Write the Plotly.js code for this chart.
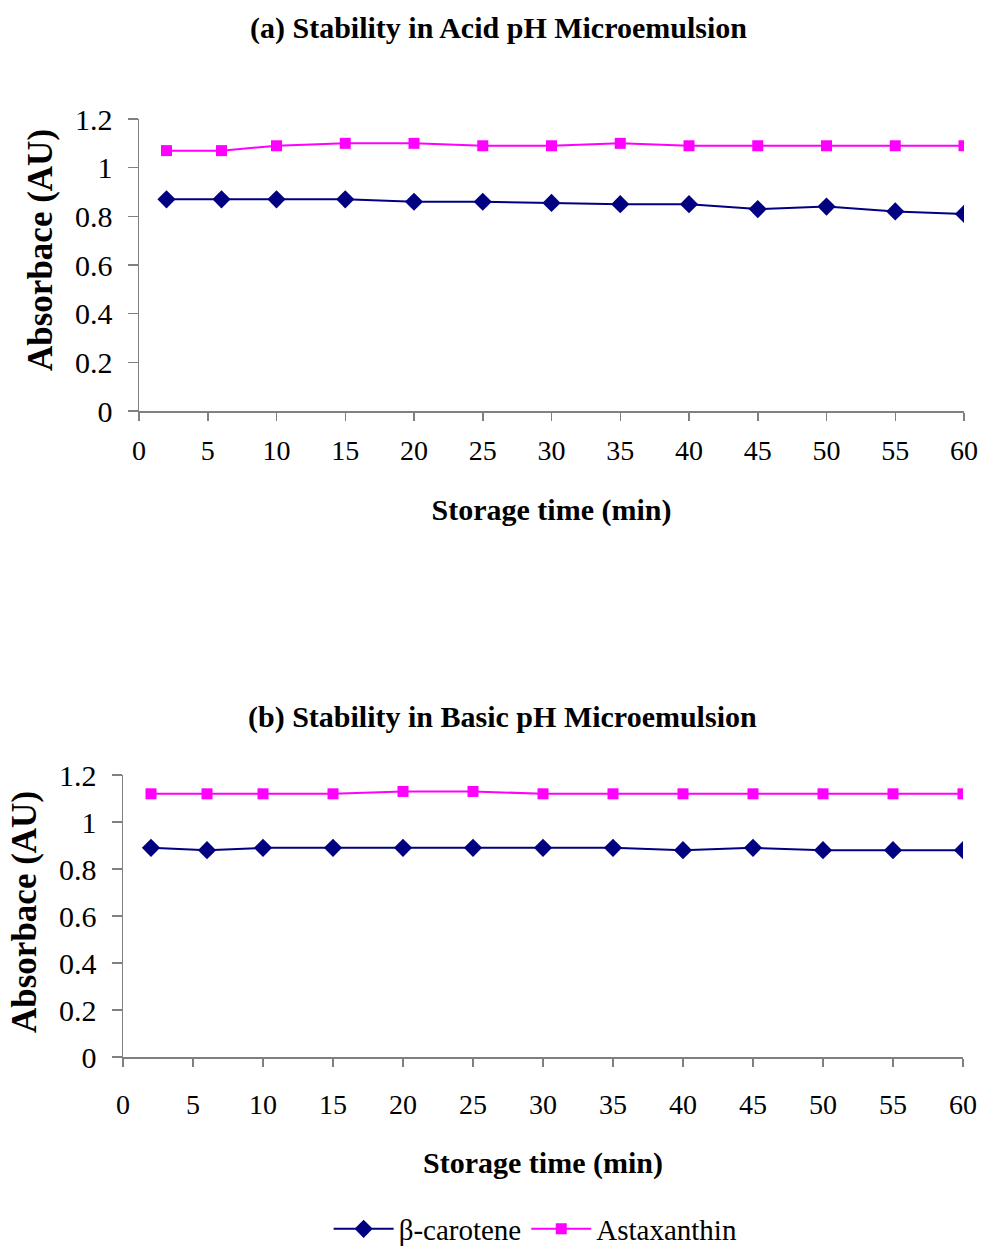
<!DOCTYPE html>
<html><head><meta charset="utf-8">
<script src="https://cdn.plot.ly/plotly-3.0.1.min.js"></script>
<style>html,body{margin:0;padding:0;background:#fff;overflow:hidden;width:981px;height:1246px}#chart{display:block;width:981px;height:1246px;overflow:hidden}</style>
</head><body><div id="chart"></div>
<script>
const time = [2, 6, 10, 15, 20, 25, 30, 35, 40, 45, 50, 55, 60];
const acidBeta = [0.87, 0.87, 0.87, 0.87, 0.86, 0.86, 0.855, 0.85, 0.85, 0.83, 0.84, 0.82, 0.81];
const acidAsta = [1.07, 1.07, 1.09, 1.10, 1.10, 1.09, 1.09, 1.10, 1.09, 1.09, 1.09, 1.09, 1.09];
const basicBeta = [0.89, 0.88, 0.89, 0.89, 0.89, 0.89, 0.89, 0.89, 0.88, 0.89, 0.88, 0.88, 0.88];
const basicAsta = [1.12, 1.12, 1.12, 1.12, 1.13, 1.13, 1.12, 1.12, 1.12, 1.12, 1.12, 1.12, 1.12];
const xTicks = [0, 5, 10, 15, 20, 25, 30, 35, 40, 45, 50, 55, 60];
const yTicks = [0, 0.2, 0.4, 0.6, 0.8, 1, 1.2];
const seriesNames = ['β-carotene', 'Astaxanthin'];

const F = 'Liberation Serif, Times New Roman, serif';
const navy = '#000080', mag = '#FF00FF';
const betaStyle = {color: navy, width: 2};
const astaStyle = {color: mag, width: 2};
const betaMarker = {symbol: 'diamond', size: 14, color: navy};
const astaMarker = {symbol: 'square', size: 11, color: mag};

const traces = [
  {x: time, y: acidBeta, name: seriesNames[0], mode: 'lines+markers', line: betaStyle, marker: betaMarker, xaxis: 'x', yaxis: 'y', legendgroup: 'b'},
  {x: time, y: acidAsta, name: seriesNames[1], mode: 'lines+markers', line: astaStyle, marker: astaMarker, xaxis: 'x', yaxis: 'y', legendgroup: 'a'},
  {x: time, y: basicBeta, name: seriesNames[0], mode: 'lines+markers', line: betaStyle, marker: betaMarker, xaxis: 'x2', yaxis: 'y2', showlegend: false, legendgroup: 'b'},
  {x: time, y: basicAsta, name: seriesNames[1], mode: 'lines+markers', line: astaStyle, marker: astaMarker, xaxis: 'x2', yaxis: 'y2', showlegend: false, legendgroup: 'a'}
];

function xa(domain, anchor, lblOff, titleOff) {
  return {domain: domain, anchor: anchor, range: [0, 60], tickmode: 'array', tickvals: xTicks,
    ticks: 'outside', ticklen: 8, tickcolor: '#808080', tickwidth: 1.5, showline: true, linecolor: '#808080', linewidth: 1.5,
    showgrid: false, zeroline: false, ticklabelstandoff: lblOff, tickfont: {family: F, size: 28, color: '#000'},
    title: {text: '<b>Storage time (min)</b>', font: {family: F, size: 30, color: '#000'}, standoff: titleOff}};
}
function ya(domain, anchor, lblOff) {
  return {domain: domain, anchor: anchor, range: [0, 1.2], tickmode: 'array', tickvals: yTicks, ticktext: yTicks.map(String),
    ticks: 'outside', ticklen: 10, tickcolor: '#808080', tickwidth: 1.5, showline: true, linecolor: '#808080', linewidth: 1.5,
    showgrid: false, zeroline: false, ticklabelstandoff: lblOff, tickfont: {family: F, size: 30, color: '#000'}};
}
function ann(text, x, y, size, angle) {
  return {text: text, xref: 'paper', yref: 'paper', x: x / 981, y: 1 - y / 1246, xanchor: 'center', yanchor: 'middle',
    showarrow: false, textangle: angle || 0, font: {family: F, size: size, color: '#000'}};
}

const layout = {
  width: 981, height: 1246, autosize: false, margin: {l: 0, r: 0, t: 0, b: 0, autoexpand: false}, paper_bgcolor: '#fff', plot_bgcolor: '#fff',
  font: {family: F, color: '#000'},
  xaxis: xa([139/981, 964/981], 'y', 6, 34),
  yaxis: ya([1 - 411/1246, 1 - 119/1246], 'x', 9),
  xaxis2: xa([123/981, 963/981], 'y2', 14, 33),
  yaxis2: ya([1 - 1057/1246, 1 - 775/1246], 'x2', 9),
  showlegend: true,
  legend: {orientation: 'h', x: 0.546, xanchor: 'center', y: 1 - 1229/1246, yanchor: 'middle',
    font: {family: F, size: 29, color: '#000'}, itemwidth: 60, tracegroupgap: 0},
  annotations: [
    ann('<b>(a) Stability in Acid pH Microemulsion</b>', 498, 28, 30),
    ann('<b>(b) Stability in Basic pH Microemulsion</b>', 502, 717, 30),
    ann('<b>Absorbace (AU)</b>', 41, 250, 35, -90),
    ann('<b>Absorbace (AU)</b>', 24, 912, 35, -90)
  ]
};

Plotly.newPlot('chart', traces, layout, {displayModeBar: false, staticPlot: true});
</script></body></html>
